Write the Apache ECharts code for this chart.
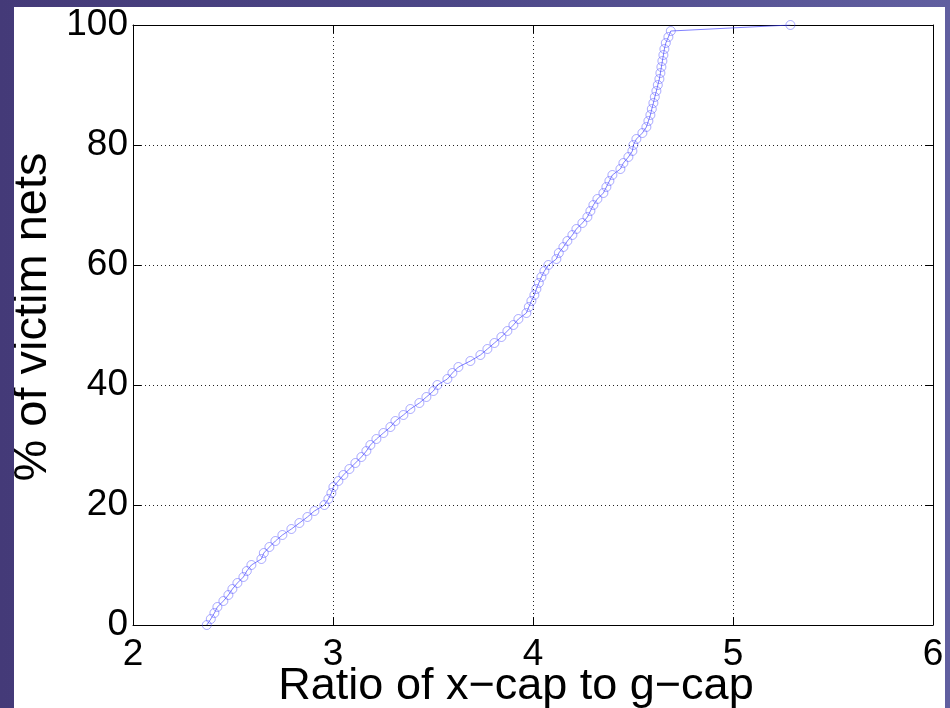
<!DOCTYPE html>
<html>
<head>
<meta charset="utf-8">
<script src="https://cdn.jsdelivr.net/npm/echarts@6/dist/echarts.min.js"></script>
<style>
  html, body { margin: 0; padding: 0; }
  body {
    width: 950px; height: 708px; position: relative; overflow: hidden;
    background: linear-gradient(to right, #443a78, #4d4888 50%, #615fa0);
  }
  #main {
    position: absolute; left: 14px; top: 7px;
    width: 931px; height: 701px; background: #fff;
  }
</style>
</head>
<body>
<div id="main"></div>
<script>
// x values (ratio of x-cap to g-cap)
let ratio = [
  2.369, 2.389, 2.407, 2.422, 2.452, 2.477, 2.497, 2.522, 2.552, 2.569,
  2.592, 2.642, 2.654, 2.682, 2.712, 2.747, 2.792, 2.832, 2.872, 2.907,
  2.957, 2.977, 2.992, 3.002, 3.027, 3.052, 3.082, 3.112, 3.142, 3.167,
  3.187, 3.217, 3.252, 3.287, 3.312, 3.352, 3.387, 3.432, 3.467, 3.502,
  3.522, 3.572, 3.597, 3.627, 3.687, 3.737, 3.772, 3.807, 3.842, 3.872,
  3.902, 3.927, 3.967, 3.979, 3.992, 4.007, 4.017, 4.029, 4.042, 4.057,
  4.077, 4.117, 4.129, 4.152, 4.172, 4.197, 4.217, 4.247, 4.272, 4.287,
  4.302, 4.322, 4.352, 4.367, 4.382, 4.397, 4.437, 4.452, 4.477, 4.497,
  4.502, 4.517, 4.547, 4.567, 4.577, 4.587, 4.594, 4.602, 4.609, 4.617,
  4.624, 4.632, 4.637, 4.642, 4.647, 4.652, 4.657, 4.664, 4.677, 4.689,
  5.287
];

// y values (% of victim nets)
let percent = [
  0, 1, 2, 3, 4, 5, 6, 7, 8, 9,
  10, 11, 12, 13, 14, 15, 16, 17, 18, 19,
  20, 21, 22, 23, 24, 25, 26, 27, 28, 29,
  30, 31, 32, 33, 34, 35, 36, 37, 38, 39,
  40, 41, 42, 43, 44, 45, 46, 47, 48, 49,
  50, 51, 52, 53, 54, 55, 56, 57, 58, 59,
  60, 61, 62, 63, 64, 65, 66, 67, 68, 69,
  70, 71, 72, 73, 74, 75, 76, 77, 78, 79,
  80, 81, 82, 83, 84, 85, 86, 87, 88, 89,
  90, 91, 92, 93, 94, 95, 96, 97, 98, 99,
  100
];

let xTicks = [2, 3, 4, 5, 6];
let yTicks = [0, 20, 40, 60, 80, 100];

let font = "'Liberation Sans', Arial, sans-serif";

// 组合成 [x, y] 数据
let points = [];
for (let i = 0; i < ratio.length; i++) {
    points.push([ratio[i], percent[i]]);
}

let myChart = echarts.init(document.getElementById('main'));

let gridLine = {
    show: true,
    lineStyle: { color: '#222', width: 1, type: [1, 3] }
};
let blackLine = { show: true, onZero: false, lineStyle: { color: '#000', width: 1 } };
let tick = { show: true, inside: true, length: 8, lineStyle: { color: '#000' } };

let option = {
    animation: false,
    grid: {
        left: 119, right: 12, top: 18, bottom: 83,
        containLabel: false, outerBoundsMode: 'none'
    },
    xAxis: [{
        type: 'value',
        min: xTicks[0], max: xTicks[xTicks.length - 1], interval: 1,
        position: 'bottom',
        name: 'Ratio of x\u2212cap to g\u2212cap',
        nameLocation: 'middle', nameGap: 39, nameMoveOverlap: false,
        nameTextStyle: { fontFamily: font, fontSize: 45, color: '#000', padding: [0, 34, 0, 0] },
        axisLine: blackLine, axisTick: tick,
        axisLabel: { fontFamily: font, fontSize: 37, color: '#000', margin: 11 },
        splitLine: gridLine
    }, {
        type: 'value',
        min: xTicks[0], max: xTicks[xTicks.length - 1], interval: 1,
        position: 'top',
        axisLine: blackLine, axisTick: tick,
        axisLabel: { show: false }, splitLine: { show: false }
    }],
    yAxis: [{
        type: 'value',
        min: yTicks[0], max: yTicks[yTicks.length - 1], interval: 20,
        position: 'left',
        name: '% of victim nets',
        nameLocation: 'middle', nameGap: 76, nameMoveOverlap: false,
        nameTextStyle: { fontFamily: font, fontSize: 47, color: '#000', padding: [0, 0, 0, 16] },
        axisLine: blackLine, axisTick: tick,
        axisLabel: { fontFamily: font, fontSize: 37, color: '#000', margin: 5 },
        splitLine: gridLine
    }, {
        type: 'value',
        min: yTicks[0], max: yTicks[yTicks.length - 1], interval: 20,
        position: 'right',
        axisLine: blackLine, axisTick: tick,
        axisLabel: { show: false }, splitLine: { show: false }
    }],
    series: [{
        type: 'line',
        data: points,
        showAllSymbol: true,
        symbol: 'circle',
        symbolSize: 9,
        itemStyle: {
            color: 'rgba(255,255,255,0)',
            borderColor: 'rgba(70,70,255,0.45)',
            borderWidth: 1
        },
        lineStyle: { color: 'rgba(60,60,255,0.65)', width: 1 }
    }]
};

myChart.setOption(option);
</script>
</body>
</html>
